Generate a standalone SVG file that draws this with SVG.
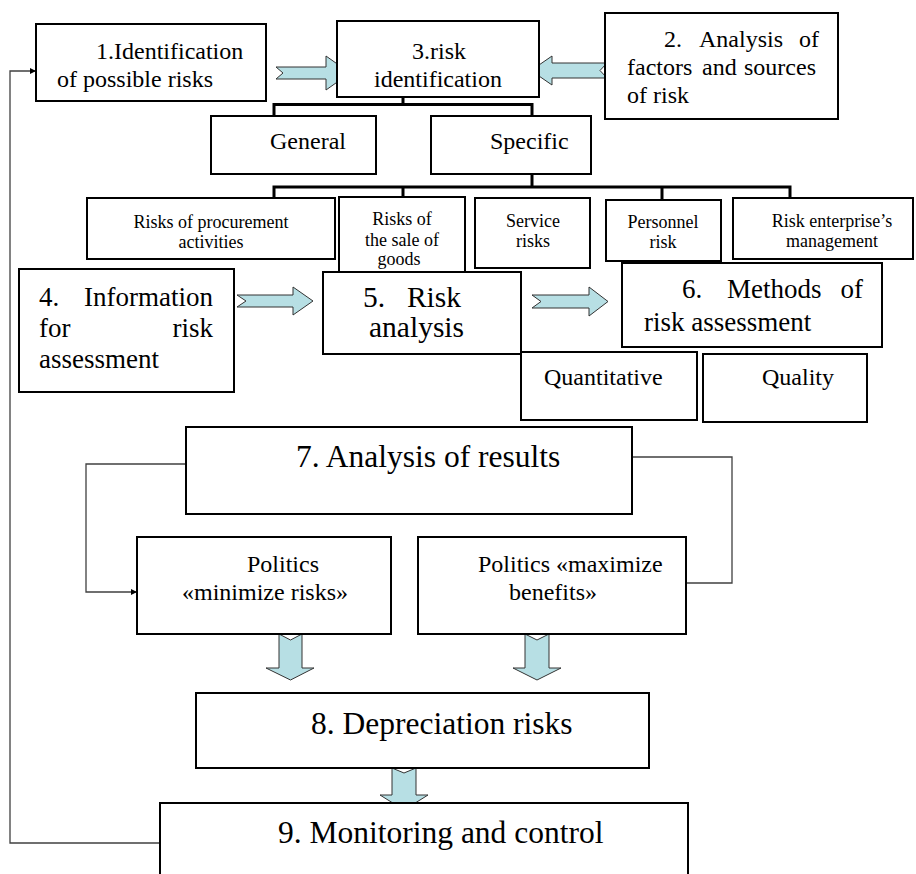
<svg xmlns="http://www.w3.org/2000/svg" width="916" height="874" viewBox="0 0 916 874" font-family="'Liberation Serif', Tinos, 'Times New Roman', 'DejaVu Serif', serif">
  <style>
    .box { fill: #ffffff; stroke: #000000; stroke-width: 2; }
    .tree { fill: none; stroke: #000000; stroke-width: 3; }
    .link { fill: none; stroke: #404040; stroke-width: 1.3; }
    .blk { fill: #b7dfe4; stroke: #333333; stroke-width: 1; stroke-linejoin: miter; }
    text { font-family: 'Liberation Serif', Tinos, 'Times New Roman', 'DejaVu Serif', serif; fill: #000000; }
    .t18 { font-size: 18px; }
    .t24 { font-size: 24px; }
    .t27 { font-size: 27px; }
    .t29 { font-size: 29.5px; }
    .t31 { font-size: 31.5px; }
    .mid { text-anchor: middle; }
  </style>
  <defs>
    <marker id="tip" viewBox="0 0 8 8" refX="8" refY="4" markerWidth="6" markerHeight="6" markerUnits="userSpaceOnUse" orient="auto">
      <path d="M0,0 L8,4 L0,8 Z" fill="#000000"/>
    </marker>
  </defs>

  <!-- connectors: feedback lines, hierarchy lines and block arrows -->
  <g id="connectors">
    <polyline class="link" points="160,843 10,843 10,71 36,71" marker-end="url(#tip)"/>
    <polyline class="link" points="186,464 86,464 86,592 137,592" marker-end="url(#tip)"/>
    <polyline class="link" points="632,457 732,457 732,583 686,583"/>

    <polyline class="tree" points="403,97 403,104.5"/>
    <polyline class="tree" points="274,116 274,104.5 532,104.5 532,116"/>
    <polyline class="tree" points="532,174 532,187"/>
    <polyline class="tree" points="274,198 274,187 790,187 790,198"/>
    <line class="tree" x1="403" y1="187" x2="403" y2="197"/>
    <line class="tree" x1="662" y1="187" x2="662" y2="200"/>

    <polygon class="blk" points="276,67 326,67 326,56 350,73 326,90 326,79 276,79 283,73"/>
    <polygon class="blk" points="607,63 552,63 552,56 531,70.5 552,85 552,78 607,78 600,70.5"/>
    <polygon class="blk" points="237,295 293,295 293,287 313,301 293,315 293,307 237,307 246,301"/>
    <polygon class="blk" points="532,295 589,295 589,287 608,301.5 589,316 589,308 532,308 541,301.5"/>
    <polygon class="blk" points="279,634 290.5,640 302,634 302,668 314,668 290.5,680 266,668 279,668"/>
    <polygon class="blk" points="525,634 537,640 549,634 549,668 561,668 537,680 513,668 525,668"/>
    <polygon class="blk" points="392,768 404,773 416,768 416,795 428,795 404,810 380,795 392,795"/>
  </g>

  <g id="n1">
    <rect class="box" x="36" y="24" width="230" height="77"/>
    <text class="t24" x="96" y="59">1.Identification</text>
    <text class="t24" x="57" y="87">of possible risks</text>
  </g>
  <g id="n3">
    <rect class="box" x="337" y="21" width="202" height="76"/>
    <text class="t24" x="412" y="59">3.risk</text>
    <text class="t24" x="374" y="87">identification</text>
  </g>
  <g id="n2">
    <rect class="box" x="605" y="13" width="233" height="106"/>
    <text class="t24" x="664" y="47">2.</text>
    <text class="t24" x="699" y="47">Analysis</text>
    <text class="t24" x="799" y="47">of</text>
    <text class="t24" x="627" y="75">factors</text>
    <text class="t24" x="702" y="75">and</text>
    <text class="t24" x="744" y="75">sources</text>
    <text class="t24" x="627" y="103">of risk</text>
  </g>
  <g id="general">
    <rect class="box" x="211" y="116" width="165" height="58"/>
    <text class="t24" x="270" y="149">General</text>
  </g>
  <g id="specific">
    <rect class="box" x="431" y="116" width="160" height="58"/>
    <text class="t24" x="490" y="149">Specific</text>
  </g>

  <g id="procurement">
    <rect class="box" x="87" y="198" width="248" height="61"/>
    <text class="t18 mid" x="211" y="228">Risks of procurement</text>
    <text class="t18 mid" x="211" y="248">activities</text>
  </g>
  <g id="sale">
    <rect class="box" x="339" y="197" width="126" height="76"/>
    <text class="t18 mid" x="402" y="225">Risks of</text>
    <text class="t18 mid" x="402" y="246">the sale of</text>
    <text class="t18 mid" x="399" y="265">goods</text>
  </g>
  <g id="service">
    <rect class="box" x="475" y="198" width="115" height="70"/>
    <text class="t18 mid" x="533" y="227">Service</text>
    <text class="t18 mid" x="533" y="247">risks</text>
  </g>
  <g id="personnel">
    <rect class="box" x="606" y="200" width="115" height="61"/>
    <text class="t18 mid" x="663" y="228">Personnel</text>
    <text class="t18 mid" x="663" y="248">risk</text>
  </g>
  <g id="enterprise">
    <rect class="box" x="733" y="198" width="180" height="61"/>
    <text class="t18 mid" x="832" y="227">Risk enterprise’s</text>
    <text class="t18 mid" x="832" y="247">management</text>
  </g>

  <g id="n4">
    <rect class="box" x="19" y="269" width="215" height="123"/>
    <text class="t27" x="39" y="306">4.</text>
    <text class="t27" x="213" y="306" text-anchor="end">Information</text>
    <text class="t27" x="39" y="337">for</text>
    <text class="t27" x="213" y="337" text-anchor="end">risk</text>
    <text class="t27" x="39" y="368">assessment</text>
  </g>
  <g id="n5">
    <rect class="box" x="323" y="272" width="198" height="82"/>
    <text class="t29" x="363" y="307">5.</text>
    <text class="t29" x="461" y="307" text-anchor="end">Risk</text>
    <text class="t29" x="369" y="337">analysis</text>
  </g>
  <g id="n6">
    <rect class="box" x="622" y="263" width="260" height="84"/>
    <text class="t27" x="682" y="298">6.</text>
    <text class="t27" x="727" y="298">Methods</text>
    <text class="t27" x="863" y="298" text-anchor="end">of</text>
    <text class="t27" x="644" y="331">risk assessment</text>
  </g>
  <g id="quantitative">
    <rect class="box" x="521" y="352" width="176" height="68"/>
    <text class="t24" x="544" y="385">Quantitative</text>
  </g>
  <g id="quality">
    <rect class="box" x="703" y="354" width="164" height="68"/>
    <text class="t24" x="762" y="385">Quality</text>
  </g>

  <g id="n7">
    <rect class="box" x="186" y="427" width="446" height="87"/>
    <text class="t31" x="296" y="467">7. Analysis of results</text>
  </g>
  <g id="minimize">
    <rect class="box" x="137" y="537" width="254" height="97"/>
    <text class="t24" x="247" y="572">Politics</text>
    <text class="t24" x="182" y="600">«minimize risks»</text>
  </g>
  <g id="maximize">
    <rect class="box" x="418" y="537" width="268" height="97"/>
    <text class="t24" x="478" y="572">Politics «maximize</text>
    <text class="t24" x="509" y="600">benefits»</text>
  </g>
  <g id="n8">
    <rect class="box" x="196" y="693" width="453" height="75"/>
    <text class="t31" x="311" y="734">8. Depreciation risks</text>
  </g>
  <g id="n9">
    <rect class="box" x="160" y="803" width="528" height="90"/>
    <text class="t31" x="278" y="843">9. Monitoring and control</text>
  </g>
</svg>
